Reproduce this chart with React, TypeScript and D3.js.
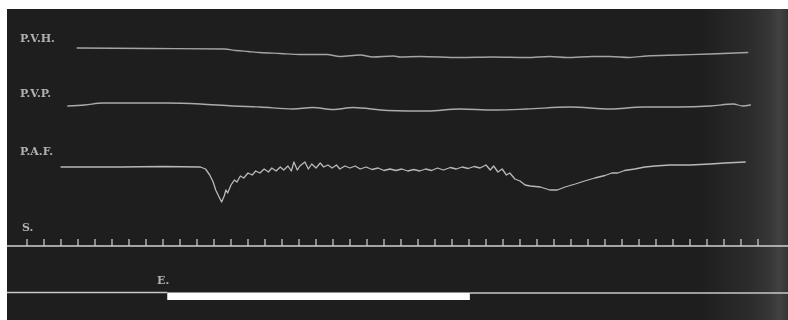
import React from "react";
import * as d3 from "d3";

// Time axis (seconds) – one time mark per second on line S
const timeMarks = d3.range(0, 44);

// P.V.H. trace (time s, value)
const pvhTime = [2.95, 7.25, 11.6, 12.3, 13.0, 13.7, 14.9, 16.05, 17.65, 18.4, 19.6, 20.35, 21.55, 21.95, 23.1, 25.45, 27.4, 29.4, 30.75, 31.75, 33.3, 34.3, 35.45, 36.45, 38.25, 40.2, 42.4];
const pvhValue = [10, 9.5, 9, 7.5, 6.5, 5.5, 4.5, 3.5, 3.5, 1.5, 3, 1, 2, 1, 1.5, 0.5, 1, 0.5, 1.5, 0.5, 1.5, 1.5, 0.5, 2, 3, 4, 5.5];

// P.V.P. trace
const pvpTime = [2.4, 3.4, 4.45, 8.25, 10.2, 12.1, 13.7, 15.65, 16.8, 18.0, 19.2, 21.2, 23.55, 25.45, 27.4, 29.4, 31.95, 34.3, 36.25, 38.25, 40.2, 41.55, 42.1, 42.55];
const pvpValue = [9, 10, 12, 12, 11, 9, 8, 6, 7.5, 5.5, 7.5, 4.5, 4, 6, 5, 6, 8, 6, 8, 8, 9, 11, 9, 10];

// P.A.F. trace (mmHg)
const pafTime = [2.0, 5.5, 8.0, 10.2, 10.5, 10.75, 10.95, 11.1, 11.3, 11.45, 11.6, 11.7, 11.8, 12.0, 12.2, 12.35, 12.55, 12.75, 13.0, 13.25, 13.45, 13.7, 13.95, 14.2, 14.4, 14.65, 14.9, 15.1, 15.35, 15.55, 15.7, 15.9, 16.05, 16.35, 16.55, 16.75, 17.0, 17.25, 17.45, 17.7, 17.95, 18.2, 18.4, 18.7, 19.0, 19.3, 19.6, 19.95, 20.3, 20.65, 21.0, 21.35, 21.7, 22.05, 22.4, 22.75, 23.1, 23.45, 23.8, 24.15, 24.5, 24.9, 25.25, 25.6, 25.95, 26.3, 26.65, 27.0, 27.25, 27.45, 27.7, 27.95, 28.2, 28.4, 28.7, 29.0, 29.3, 29.6, 30.2, 30.75, 31.2, 31.65, 32.25, 32.8, 33.4, 34.0, 34.4, 34.75, 35.15, 35.75, 36.35, 36.95, 37.8, 39.0, 40.2, 41.05, 42.25];
const pafValue = [120, 120, 120.5, 120, 118, 112, 105, 97, 90, 85, 91, 97, 94, 102, 107, 105, 111, 109, 114, 112, 116, 114, 118, 115, 119, 116, 120, 117, 121, 116, 125, 117, 121, 125, 118, 123, 119, 124, 120, 122, 119, 122, 118, 121, 119, 121, 118, 120, 117.5, 119, 116.5, 118, 116.5, 118, 116, 117.5, 116, 118, 116.5, 119, 117, 119.5, 118, 120, 118.5, 120.5, 119, 122, 117, 121, 115, 118, 112, 114, 108, 106, 102, 101, 100, 97, 97, 100, 103, 106, 109, 111.5, 114, 114, 116.5, 118, 120, 121, 122, 122, 123, 124, 125];

// Excitation signal E (start, end in s)
const excitation = [8.25, 26.05];

const channelLabels = ["P.V.H.", "P.V.P.", "P.A.F.", "S."];

const W = 788;
const H = 320;

export default function App() {
  const x = d3.scaleLinear().domain([0, 43]).range([27, 758]);
  const yPvh = d3.scaleLinear().domain([0, 10]).range([58, 48]);
  const yPvp = d3.scaleLinear().domain([0, 15]).range([115, 100]);
  const yPaf = d3.scaleLinear().domain([80, 130]).range([207, 157]);

  const pvh = d3
    .line<number>()
    .x((_, i) => x(pvhTime[i]))
    .y((d) => yPvh(d))
    .curve(d3.curveMonotoneX)(pvhValue) as string;
  const pvp = d3
    .line<number>()
    .x((_, i) => x(pvpTime[i]))
    .y((d) => yPvp(d))
    .curve(d3.curveMonotoneX)(pvpValue) as string;
  const paf = d3
    .line<number>()
    .x((_, i) => x(pafTime[i]))
    .y((d) => yPaf(d))
    .curve(d3.curveLinear)(pafValue) as string;

  const sY = 246;
  const eY = 292.5;
  const labelFont = "'DejaVu Serif', 'Liberation Serif', serif";

  return (
    <svg
      width={W}
      height={H}
      style={{ position: "absolute", left: 0, top: 0, display: "block" }}
    >
      <defs>
        <linearGradient id="rightFade" x1="0" x2="1" y1="0" y2="0">
          <stop offset="0" stopColor="#ffffff" stopOpacity={0} />
          <stop offset="0.55" stopColor="#ffffff" stopOpacity={0.06} />
          <stop offset="0.8" stopColor="#ffffff" stopOpacity={0.11} />
          <stop offset="0.9" stopColor="#ffffff" stopOpacity={0.16} />
          <stop offset="1" stopColor="#ffffff" stopOpacity={0.1} />
        </linearGradient>
        <filter id="soft" x="-5%" y="-50%" width="110%" height="200%">
          <feGaussianBlur stdDeviation="0.4" />
        </filter>
      </defs>
      <rect x={0} y={0} width={W} height={H} fill="#ffffff" />
      <rect x={7} y={9} width={W - 7} height={H - 9} fill="#1e1e1e" />
      <rect x={700} y={9} width={88} height={H - 9} fill="url(#rightFade)" />

      {/* channel labels */}
      <g fill="#b0b0b0" fontFamily={labelFont} fontWeight="bold" fontSize={11} filter="url(#soft)">
        <text x={20} y={42}>{channelLabels[0]}</text>
        <text x={20} y={97}>{channelLabels[1]}</text>
        <text x={20} y={155}>{channelLabels[2]}</text>
        <text x={22} y={231}>{channelLabels[3]}</text>
        <text x={157} y={284}>E.</text>
      </g>

      {/* traces */}
      <g fill="none" strokeLinejoin="round" strokeLinecap="round" filter="url(#soft)">
        <path d={pvh} stroke="#a4a4a4" strokeWidth={1.3} />
        <path d={pvp} stroke="#ababab" strokeWidth={1.3} />
        <path d={paf} stroke="#b8b8b8" strokeWidth={1.3} />
      </g>

      {/* time line S */}
      <line x1={7} x2={W} y1={sY} y2={sY} stroke="#d0d0d0" strokeWidth={1.6} />
      <g stroke="#c8c8c8" strokeWidth={1.3}>
        {timeMarks.map((t) => (
          <line key={t} x1={x(t)} x2={x(t)} y1={sY} y2={sY - 7} />
        ))}
      </g>

      {/* excitation signal E */}
      <line x1={7} x2={x(excitation[0])} y1={eY} y2={eY} stroke="#c8c8c8" strokeWidth={1.6} />
      <line x1={x(excitation[1])} x2={W} y1={eY + 0.5} y2={eY + 0.5} stroke="#c8c8c8" strokeWidth={1.6} />
      <rect
        x={x(excitation[0])}
        y={eY}
        width={x(excitation[1]) - x(excitation[0])}
        height={7.5}
        fill="#ffffff"
      />
    </svg>
  );
}
